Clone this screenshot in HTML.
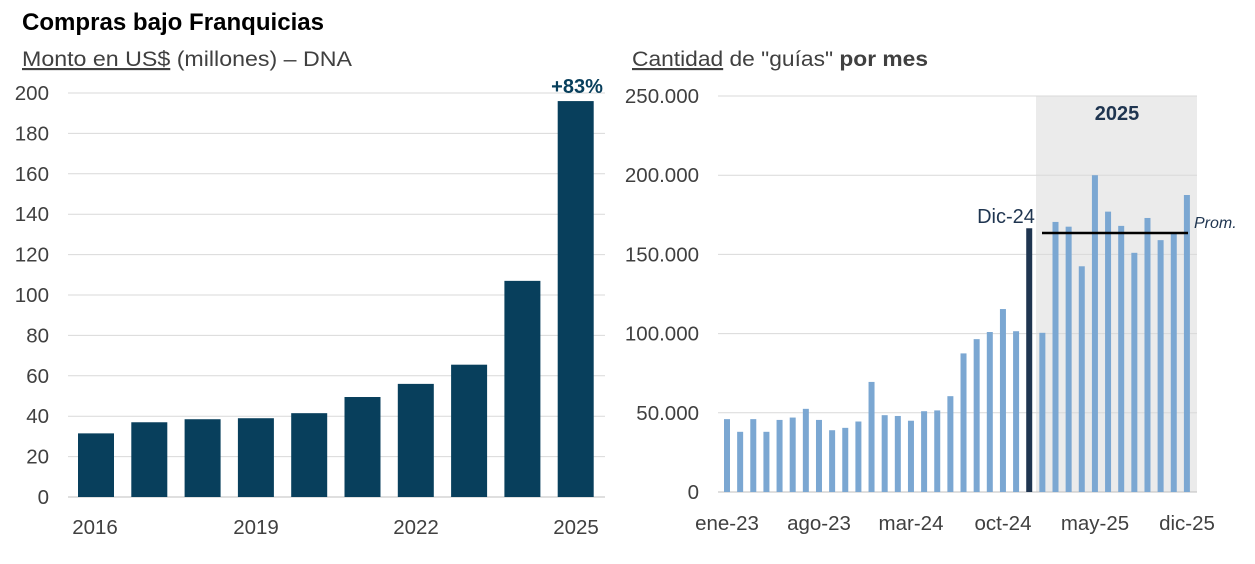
<!DOCTYPE html>
<html><head><meta charset="utf-8"><style>
body{margin:0;background:#fff;}
svg text{font-family:"Liberation Sans",sans-serif;}
</style></head><body>
<svg width="1255" height="559" xmlns="http://www.w3.org/2000/svg">
<rect width="1255" height="559" fill="#fff"/>
<text x="22" y="30" font-size="24" font-weight="bold" fill="#000" textLength="302" lengthAdjust="spacingAndGlyphs">Compras bajo Franquicias</text>
<text x="22" y="66" font-size="21.5" fill="#404040" textLength="330" lengthAdjust="spacingAndGlyphs"><tspan text-decoration="underline">Monto en US$</tspan> (millones) – DNA</text>
<g id="left"></g>
<g id="right"></g>
<text x="632" y="66" font-size="21.5" fill="#404040" textLength="296" lengthAdjust="spacingAndGlyphs"><tspan text-decoration="underline">Cantidad</tspan> de "guías" <tspan font-weight="bold">por mes</tspan></text>
</svg>
<script>
var ns="http://www.w3.org/2000/svg";
function el(p,t,a,txt){var e=document.createElementNS(ns,t);for(var k in a)e.setAttribute(k,a[k]);if(txt!=null)e.textContent=txt;p.appendChild(e);return e;}
var L=document.getElementById('left');
for(var i=0;i<=10;i++){var y=497-i*40.4;
 if(i>0)el(L,'line',{x1:68,x2:605,y1:y,y2:y,stroke:'#d9d9d9','stroke-width':1});
 el(L,'text',{x:49,y:y+7,'font-size':20.5,fill:'#404040','text-anchor':'end'},String(i*20));}
el(L,'line',{x1:68,x2:605,y1:497,y2:497,stroke:'#bfbfbf'});
var lv=[31.5,37,38.5,39,41.5,49.5,56,65.5,107,196];
lv.forEach(function(v,i){var cx=96+i*53.3,h=v*2.02;
 el(L,'rect',{x:cx-18,y:497-h,width:36,height:h,fill:'#083f5c'});});
[[95,'2016'],[256,'2019'],[416,'2022'],[576,'2025']].forEach(function(a){el(L,'text',{x:a[0],y:534,'font-size':20.5,fill:'#404040','text-anchor':'middle'},a[1]);});
el(L,'text',{x:577,y:93,'font-size':20,'font-weight':'bold',fill:'#083f5c','text-anchor':'middle'},'+83%');
var R=document.getElementById('right');
el(R,'rect',{x:1036,y:96,width:161,height:396,fill:'#ebebeb'});
var lab=['0','50.000','100.000','150.000','200.000','250.000'];
for(var i=0;i<=5;i++){var y=492-i*79.2;
 if(i>0)el(R,'line',{x1:718,x2:1197,y1:y,y2:y,stroke:'#d9d9d9'});
 el(R,'text',{x:699,y:y+7,'font-size':20.5,fill:'#404040','text-anchor':'end'},lab[i]);}
el(R,'line',{x1:718,x2:1197,y1:492,y2:492,stroke:'#bfbfbf'});
var rv=[46000,38000,46000,38000,45500,47000,52500,45500,39000,40500,44500,69500,48500,48000,45000,51000,51500,60500,87500,96500,101000,115500,101500,166500,100500,170500,167500,142500,200000,177000,168000,151000,173000,159000,164000,187500];
rv.forEach(function(v,i){var cx=727+i*13.14,h=v/250000*396;
 el(R,'rect',{x:cx-3,y:492-h,width:6,height:h,fill:i==23?'#1f3550':'#7ba7d2'});});
el(R,'line',{x1:1042,x2:1188,y1:233,y2:233,stroke:'#000','stroke-width':2.5});
el(R,'text',{x:1194,y:228,'font-size':16,'font-style':'italic',fill:'#1f3550'},'Prom.');
el(R,'text',{x:1006,y:223,'font-size':20,fill:'#1f3550','text-anchor':'middle'},'Dic-24');
el(R,'text',{x:1117,y:120,'font-size':20,'font-weight':'bold',fill:'#1f3550','text-anchor':'middle'},'2025');
[[727,'ene-23'],[819,'ago-23'],[911,'mar-24'],[1003,'oct-24'],[1095,'may-25'],[1187,'dic-25']].forEach(function(a){el(R,'text',{x:a[0],y:530,'font-size':20.5,fill:'#404040','text-anchor':'middle'},a[1]);});
</script>
</body></html>
